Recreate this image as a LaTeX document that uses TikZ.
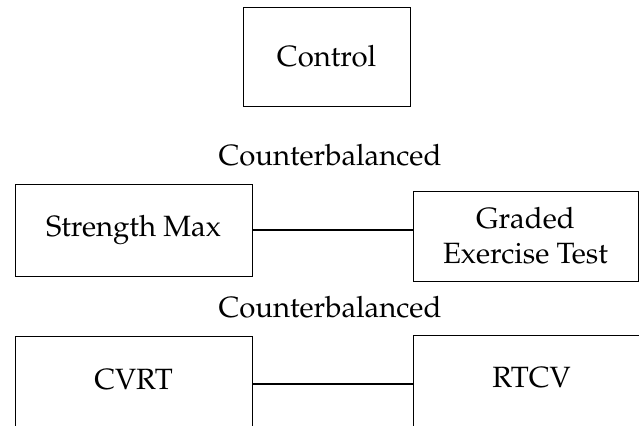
\documentclass[tikz,border=0pt]{standalone}
\usepackage[T1]{fontenc}
\usepackage{mathpazo}
\begin{document}
\begin{tikzpicture}[x=0.75pt,y=-0.75pt,
  txt/.style={font=\fontsize{22}{26}\selectfont},
  box/.style={draw, line width=0.75pt, inner sep=0pt, align=center, txt},
  link/.style={line width=1.8pt},
  lbl/.style={inner sep=0pt, txt}]
\useasboundingbox (0,0) rectangle (639,425);
\clip (0,0) rectangle (639,425);
\node[box, minimum width=125.25pt, minimum height=74.25pt] (ctl) at (326.5,56.5) {Control};
\node[lbl] (cb1) at (330,155) {Counterbalanced};
\node[box, minimum width=177.75pt, minimum height=69pt] (sm) at (133.5,230) {Strength Max};
\node[box, minimum width=168.75pt, minimum height=67.5pt] (get) at (525.5,236) {Graded\\Exercise Test};
\node[lbl] (cb2) at (330,307) {Counterbalanced};
\node[box, minimum width=177.75pt, minimum height=72pt, text depth=7.5pt] (cvrt) at (133.5,384) {CVRT};
\node[box, minimum width=177.75pt, minimum height=72pt, text depth=9pt] (rtcv) at (531.5,383) {RTCV};
\draw[link] (sm.east) -- (sm.east -| get.west);
\draw[link] (cvrt.east) -- (cvrt.east -| rtcv.west);
\end{tikzpicture}
\end{document}
